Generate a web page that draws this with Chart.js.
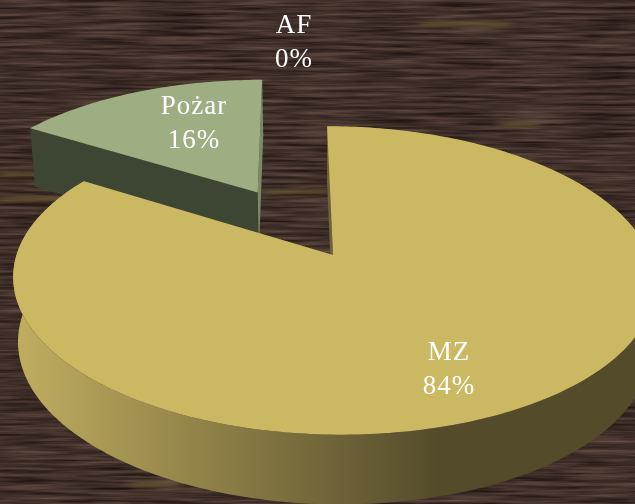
<!DOCTYPE html>
<html><head><meta charset="utf-8">
<style>
html,body{margin:0;padding:0;width:635px;height:504px;overflow:hidden;background:#43312a}
#wood{position:absolute;left:0;top:0}
canvas{position:absolute;left:0;top:0}
</style>
<script src="https://cdn.jsdelivr.net/npm/chart.js@4"></script>
</head><body>
<svg id="wood" width="635" height="504" xmlns="http://www.w3.org/2000/svg">
<defs>
<filter id="grain" x="0" y="0" width="100%" height="100%" color-interpolation-filters="sRGB">
<feTurbulence type="fractalNoise" baseFrequency="0.014 0.3" numOctaves="4" seed="11"/>
<feGaussianBlur stdDeviation="1.2 0.5"/>
<feColorMatrix type="matrix" values="0.36 0 0 0 0.07  0.3 0 0 0 0.035  0.27 0 0 0 0.025  0 0 0 0 1"/>
</filter>
<filter id="soft"><feGaussianBlur stdDeviation="6 1.6"/></filter>
</defs>
<rect width="635" height="504" filter="url(#grain)"/>
<g filter="url(#soft)" fill="#6b5a30" opacity="0.7">
<rect x="0" y="172" width="60" height="5"/><rect x="0" y="197" width="70" height="5"/>
<rect x="262" y="190" width="70" height="4"/><rect x="420" y="22" width="90" height="5"/>
<rect x="500" y="122" width="40" height="5"/><rect x="130" y="482" width="50" height="5"/>
</g>
</svg>
<canvas id="c" width="635" height="504"></canvas>
<script>
const categories = ["MZ", "Po\u017car", "AF"];
const shareValues = [84, 16, 0];
const explodeFractions = [0, 0.51, 0];
const topColors = ["#CBB862", "#9CAE82", "#9CAE82"];

const VIEW = {cx:333, cy:255, sx:316.5, sy:150, shear:6.9, k:0.165, depth:64, depthGrow:0.09, shrink:0.985};
const LABELS = [{x:449,y:360},{x:194,y:114},{x:294,y:33}];
const LINE_GAP = 33.5;

function project(u, v, low){
  const w = 1 - VIEW.k*v;
  let x = VIEW.cx + (VIEW.sx*u + VIEW.shear*v)/w;
  let y = VIEW.cy + VIEW.sy*v/w;
  if(low){
    x = VIEW.cx + (x-VIEW.cx)*VIEW.shrink;
    y = y + VIEW.depth*(1 + VIEW.depthGrow*v);
  }
  return [x,y];
}
function planPoint(a, r, ex, mid){
  return [r*Math.cos(a) + ex*Math.cos(mid), r*Math.sin(a) + ex*Math.sin(mid)];
}
function trace(ctx, pts){
  ctx.beginPath();
  pts.forEach((p,i)=> i ? ctx.lineTo(p[0],p[1]) : ctx.moveTo(p[0],p[1]));
  ctx.closePath();
}
function drawSlice(ctx, arc, i){
  const s = arc.startAngle, e = arc.endAngle;
  if(e - s < 1e-4) return;
  const ex = explodeFractions[i], mid = (s+e)/2;
  const n = Math.ceil((e-s)/(Math.PI/180));
  const plan = [];
  for(let j=0;j<=n;j++) plan.push(planPoint(s+(e-s)*j/n, 1, ex, mid));
  const apex = planPoint(0,0,ex,mid);
  const up = plan.map(p=>project(p[0],p[1],false));
  const lo = plan.map(p=>project(p[0],p[1],true));
  const aUp = project(apex[0],apex[1],false), aLo = project(apex[0],apex[1],true);
  const isMain = i===0;
  // outer wall
  if(isMain){
    const g = ctx.createLinearGradient(18,0,440,0);
    g.addColorStop(0,"#BFAD5F"); g.addColorStop(1,"#544B2B");
    ctx.fillStyle = g;
    trace(ctx, up.concat(lo.slice().reverse())); ctx.fill();
  }
  // radial faces
  ctx.fillStyle = isMain ? "#6B6238" : "#3D4633";
  trace(ctx,[up[0],aUp,aLo,lo[0]]); ctx.fill();
  ctx.fillStyle = isMain ? "#6B6238" : "#7A8A64";
  trace(ctx,[up[n],aUp,aLo,lo[n]]); ctx.fill();
  // top
  ctx.fillStyle = arc.options.backgroundColor;
  trace(ctx,[aUp].concat(up)); ctx.fill();
}
const pie3d = {
  id:"pie3d",
  beforeDatasetDraw(chart, args){
    const ctx = chart.ctx, arcs = args.meta.data;
    ctx.save();
    [2,1,0].forEach(i=>drawSlice(ctx, arcs[i], i));
    ctx.restore();
    return false;
  },
  afterDatasetsDraw(chart){
    const ctx = chart.ctx;
    ctx.save();
    ctx.fillStyle = "#FFFFFF";
    ctx.font = '27px "Liberation Serif"';
    ctx.letterSpacing = "1px";
    ctx.textAlign = "center";
    ctx.textBaseline = "alphabetic";
    categories.forEach((name,i)=>{
      const p = LABELS[i];
      ctx.fillText(name, p.x, p.y);
      ctx.fillText(shareValues[i]+"%", p.x, p.y+LINE_GAP);
    });
    ctx.restore();
  }
};
new Chart(document.getElementById("c"),{
  type:"pie",
  data:{labels:categories,datasets:[{data:shareValues,backgroundColor:topColors,borderWidth:0}]},
  options:{
    responsive:false,animation:false,
    layout:{padding:0},
    plugins:{legend:{display:false},tooltip:{enabled:false},title:{display:false}}
  },
  plugins:[pie3d]
});
</script>
</body></html>
